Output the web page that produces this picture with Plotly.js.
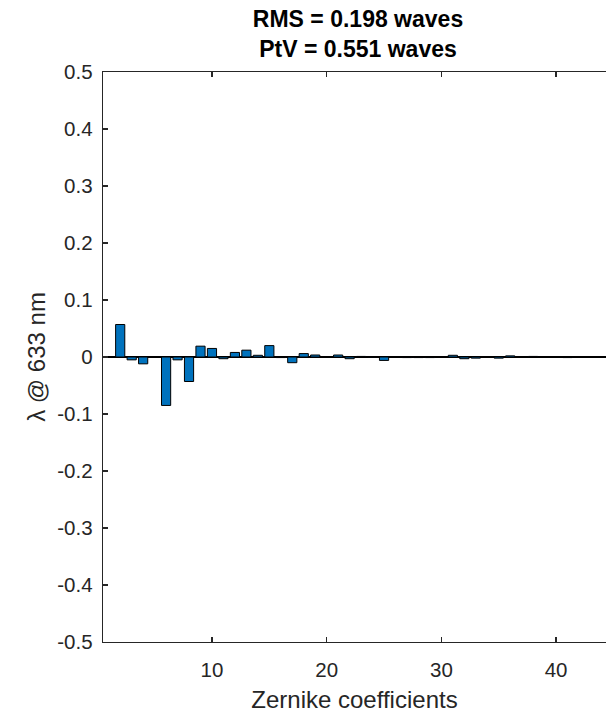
<!DOCTYPE html>
<html>
<head>
<meta charset="utf-8">
<script src="https://cdn.plot.ly/plotly-3.0.1.min.js"></script>
<style>html,body{margin:0;padding:0;background:#fff;overflow:hidden;}#chart{width:606px;height:713px;}</style>
</head>
<body>
<div id="chart"></div>
<script>
var zernikeIndex = [2,3,4,5,6,7,8,9,10,11,12,13,14,15,16,17,18,19,20,21,22,23,24,25,26,27,28,29,30,31,32,33,34,35,36,37,38,39,40,41,42,43,44];
var coeffValues = [0.057,-0.005,-0.012,0.0,-0.085,-0.005,-0.043,0.019,0.015,-0.003,0.008,0.012,0.003,0.020,-0.001,-0.010,0.006,0.0035,0.0,0.0035,-0.003,0.001,-0.0005,-0.006,0.0,-0.001,-0.001,-0.001,0.0,0.003,-0.003,-0.002,0.0,-0.002,0.002,0.0,0.001,0.0,0.0,-0.001,0.0,0.0,0.0];
var yTickVals = [0.5,0.4,0.3,0.2,0.1,0,-0.1,-0.2,-0.3,-0.4,-0.5];
var yTickText = ['0.5','0.4','0.3','0.2','0.1','0','-0.1','-0.2','-0.3','-0.4','-0.5'];
var xTickVals = [10,20,30,40];

var trace = {
  type: 'bar',
  x: zernikeIndex,
  y: coeffValues,
  width: 0.8,
  marker: {color: '#0072BD', line: {color: '#000000', width: 1}},
  hoverinfo: 'x+y'
};

var axisColor = '#262626';
var fontFam = 'Liberation Sans, Arial, sans-serif';
var layout = {
  width: 606, height: 713,
  margin: {l: 103, r: 0, t: 72, b: 71},
  paper_bgcolor: '#ffffff', plot_bgcolor: '#ffffff',
  showlegend: false,
  font: {family: fontFam, color: axisColor, size: 20},
  title: {
    text: '<b>RMS = 0.198 waves</b><br><b>PtV = 0.551 waves</b>',
    font: {size: 23, color: '#000000', family: fontFam},
    x: 0.507, xref: 'paper', xanchor: 'center',
    y: 1, yref: 'paper', yanchor: 'bottom', pad: {b: 45}
  },
  xaxis: {
    range: [0.5, 44.35],
    tickvals: xTickVals,
    ticks: 'inside', ticklen: 5, tickwidth: 1.3, tickcolor: axisColor,
    showline: true, linecolor: axisColor, linewidth: 1.3, mirror: 'ticks',
    showgrid: false, zeroline: false,
    tickfont: {size: 20.5, color: axisColor},
    ticklabelstandoff: 9,
    title: {text: 'Zernike coefficients', font: {size: 24, color: axisColor}, standoff: 14}
  },
  yaxis: {
    range: [-0.5, 0.5],
    tickvals: yTickVals, ticktext: yTickText,
    ticks: 'inside', ticklen: 5, tickwidth: 1.3, tickcolor: axisColor,
    showline: true, linecolor: axisColor, linewidth: 1.3,
    showgrid: false,
    zeroline: true, zerolinecolor: '#000000', zerolinewidth: 1.3,
    tickfont: {size: 20.5, color: axisColor},
    ticklabelstandoff: 5,
    title: {text: 'λ @ 633 nm', font: {size: 24, color: axisColor}, standoff: 5}
  },
  bargap: 0.2
};

Plotly.newPlot('chart', [trace], layout, {displayModeBar: false, staticPlot: true});
</script>
</body>
</html>
